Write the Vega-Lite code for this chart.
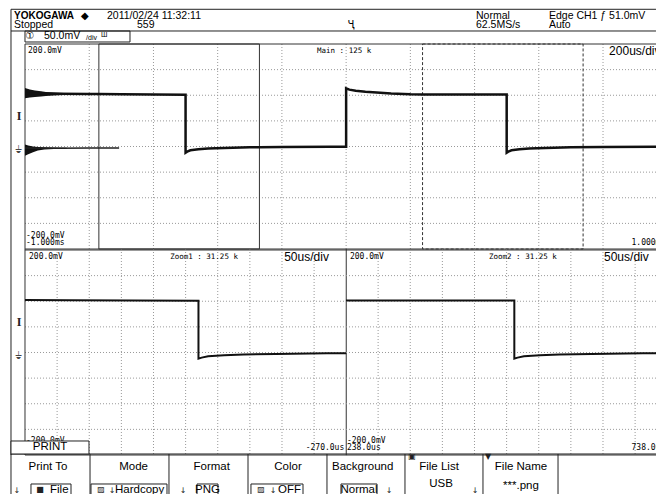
{
"$schema": "https://vega.github.io/schema/vega-lite/v6.json",
"padding": 0,
"spacing": 0,
"bounds": "flush",
"background": "white",
"config": {"view": {"stroke": null}, "axis": {"disable": true}, "concat": {"spacing": 0}},
"datasets": {
"ch1": [
{"t": -1000, "v": 104}, {"t": -900, "v": 103}, {"t": -800, "v": 102.5}, {"t": -770, "v": 102.35}, {"t": -700, "v": 102}, {"t": -600, "v": 101.5}, {"t": -500, "v": 101},
{"t": -500, "v": -12}, {"t": -495, "v": -10}, {"t": -485, "v": -7.5}, {"t": -460, "v": -5.5}, {"t": -430, "v": -4}, {"t": -380, "v": -2.8}, {"t": -300, "v": -1.6}, {"t": -270, "v": -1.36}, {"t": -200, "v": -0.8}, {"t": -50, "v": -0.4}, {"t": 0, "v": -0.4},
{"t": 0, "v": 113.5}, {"t": 10, "v": 111}, {"t": 30, "v": 109}, {"t": 60, "v": 107}, {"t": 95, "v": 105.5}, {"t": 140, "v": 103.5}, {"t": 200, "v": 102}, {"t": 238, "v": 101.6}, {"t": 250, "v": 101.5}, {"t": 350, "v": 101.5}, {"t": 500, "v": 101.5},
{"t": 500, "v": -12}, {"t": 505, "v": -10}, {"t": 515, "v": -7.5}, {"t": 540, "v": -5.5}, {"t": 570, "v": -4}, {"t": 620, "v": -2.8}, {"t": 700, "v": -1.6}, {"t": 800, "v": -0.8}, {"t": 1000, "v": -0.4}
],
"ring": [
{"trace": "high", "t": -1000, "lo": 94, "hi": 114}, {"trace": "high", "t": -985, "lo": 95.5, "hi": 111}, {"trace": "high", "t": -969, "lo": 96.5, "hi": 109.5}, {"trace": "high", "t": -950, "lo": 97.5, "hi": 108}, {"trace": "high", "t": -935, "lo": 98.5, "hi": 106.5}, {"trace": "high", "t": -910, "lo": 99.5, "hi": 105.5}, {"trace": "high", "t": -880, "lo": 100.5, "hi": 104.5}, {"trace": "high", "t": -840, "lo": 101, "hi": 103.8}, {"trace": "high", "t": -800, "lo": 101.4, "hi": 103.2},
{"trace": "low", "t": -1000, "lo": -18, "hi": 4}, {"trace": "low", "t": -990, "lo": -15, "hi": 2}, {"trace": "low", "t": -975, "lo": -11, "hi": 0}, {"trace": "low", "t": -960, "lo": -8, "hi": -1}, {"trace": "low", "t": -940, "lo": -6, "hi": -1.5}, {"trace": "low", "t": -910, "lo": -5, "hi": -2}, {"trace": "low", "t": -870, "lo": -4.5, "hi": -2.5}
],
"ghost": [{"t": -1000, "v": -3}, {"t": -900, "v": -3.2}, {"t": -800, "v": -3}, {"t": -707, "v": -3}]
},
"vconcat": [
{
"width": 656, "height": 44,
"layer": [
{"data": {"values": [{"d": -0.2179, "d2": 9.821, "r": 0.845}, {"d": -0.2179, "d2": 9.821, "r": 2.818}]},
 "mark": {"type": "rule", "color": "#222", "strokeWidth": 1},
 "encoding": {"x": {"field": "d", "type": "quantitative", "scale": {"domain": [-0.3891, 9.821], "nice": false}}, "x2": {"field": "d2"}, "y": {"field": "r", "type": "quantitative", "scale": {"domain": [0, 4], "reverse": true, "nice": false}}}},
{"data": {"values": [{"d": -0.2179, "r": 0.845, "r2": 4}]},
 "mark": {"type": "rule", "color": "#222", "strokeWidth": 1},
 "encoding": {"x": {"field": "d", "type": "quantitative", "scale": {"domain": [-0.3891, 9.821], "nice": false}}, "y": {"field": "r", "type": "quantitative", "scale": {"domain": [0, 4], "reverse": true, "nice": false}}, "y2": {"field": "r2"}}},
{"data": {"values": [{"d": 0, "d2": 1.634, "r": 2.818, "r2": 3.818}]},
 "mark": {"type": "rect", "fillOpacity": 0, "stroke": "#222", "strokeWidth": 1},
 "encoding": {"x": {"field": "d", "type": "quantitative", "scale": {"domain": [-0.3891, 9.821], "nice": false}}, "x2": {"field": "d2"}, "y": {"field": "r", "type": "quantitative", "scale": {"domain": [0, 4], "reverse": true, "nice": false}}, "y2": {"field": "r2"}}},
{"data": {"values": [{"d": -0.171, "r": 1.455, "txt": "YOKOGAWA"}]},
 "mark": {"type": "text", "align": "left", "baseline": "middle", "font": "Liberation Sans", "fontSize": 10, "fontWeight": "bold", "color": "#000"},
 "encoding": {"x": {"field": "d", "type": "quantitative", "scale": {"domain": [-0.3891, 9.821], "nice": false}}, "y": {"field": "r", "type": "quantitative", "scale": {"domain": [0, 4], "reverse": true, "nice": false}}, "text": {"field": "txt"}}},
{"data": {"values": [{"d": 0.93, "r": 1.455, "txt": "◆"}, {"d": 5.074, "r": 2.318, "txt": "Ҷ"}, {"d": 0.078, "r": 3.318, "txt": "①"}]},
 "mark": {"type": "text", "align": "center", "baseline": "middle", "font": "DejaVu Sans", "fontSize": 10, "color": "#000"},
 "encoding": {"x": {"field": "d", "type": "quantitative", "scale": {"domain": [-0.3891, 9.821], "nice": false}}, "y": {"field": "r", "type": "quantitative", "scale": {"domain": [0, 4], "reverse": true, "nice": false}}, "text": {"field": "txt"}}},
{"data": {"values": [
 {"d": 1.276, "r": 1.455, "txt": "2011/02/24 11:32:11"},
 {"d": -0.171, "r": 2.318, "txt": "Stopped"},
 {"d": 1.743, "r": 2.318, "txt": "559"},
 {"d": 7.019, "r": 1.455, "txt": "Normal"},
 {"d": 7.019, "r": 2.318, "txt": "62.5MS/s"},
 {"d": 8.155, "r": 1.455, "txt": "Edge CH1 ƒ 51.0mV"},
 {"d": 8.155, "r": 2.318, "txt": "Auto"},
 {"d": 0.296, "r": 3.318, "txt": "50.0mV"}]},
 "mark": {"type": "text", "align": "left", "baseline": "middle", "font": "Liberation Sans", "fontSize": 10.5, "color": "#000"},
 "encoding": {"x": {"field": "d", "type": "quantitative", "scale": {"domain": [-0.3891, 9.821], "nice": false}}, "y": {"field": "r", "type": "quantitative", "scale": {"domain": [0, 4], "reverse": true, "nice": false}}, "text": {"field": "txt"}}},
{"data": {"values": [{"d": 0.95, "r": 3.45, "txt": "/div"}, {"d": 1.183, "r": 3.2, "txt": "Ш"}]},
 "mark": {"type": "text", "align": "left", "baseline": "middle", "font": "Liberation Sans", "fontSize": 7, "color": "#000"},
 "encoding": {"x": {"field": "d", "type": "quantitative", "scale": {"domain": [-0.3891, 9.821], "nice": false}}, "y": {"field": "r", "type": "quantitative", "scale": {"domain": [0, 4], "reverse": true, "nice": false}}, "text": {"field": "txt"}}}
]
},
{
"width": 656, "height": 205,
"resolve": {"scale": {"x": "independent"}},
"layer": [
{"data": {"values": [{"d": -0.2179}]}, "mark": {"type": "rule", "color": "#222"},
 "encoding": {"x": {"field": "d", "type": "quantitative", "scale": {"domain": [-0.3891, 9.821], "nice": false}}}},
{"data": {"values": [{"d": -0.0934, "v": 59, "txt": "I"}]},
 "mark": {"type": "text", "align": "center", "baseline": "middle", "font": "Liberation Serif", "fontSize": 12, "fontWeight": "bold", "color": "#222"},
 "encoding": {"x": {"field": "d", "type": "quantitative", "scale": {"domain": [-0.3891, 9.821], "nice": false}}, "y": {"field": "v", "type": "quantitative", "scale": {"domain": [-200, 200], "nice": false}}, "text": {"field": "txt"}}},
{"data": {"values": [{"d": -0.0934, "v": -6, "txt": "⏚"}]},
 "mark": {"type": "text", "align": "center", "baseline": "middle", "font": "DejaVu Sans", "fontSize": 10, "color": "#444"},
 "encoding": {"x": {"field": "d", "type": "quantitative", "scale": {"domain": [-0.3891, 9.821], "nice": false}}, "y": {"field": "v", "type": "quantitative", "scale": {"domain": [-200, 200], "nice": false}}, "text": {"field": "txt"}}},
{"data": {"values": [{"t": -800}, {"t": -600}, {"t": -400}, {"t": -200}, {"t": 0}, {"t": 200}, {"t": 400}, {"t": 600}, {"t": 800}]},
 "mark": {"type": "rule", "color": "#999", "strokeDash": [1, 2]},
 "encoding": {"x": {"field": "t", "type": "quantitative", "scale": {"domain": [-1077.9, 965], "nice": false}}}},
{"data": {"values": [{"v": -150, "t": -1000, "t2": 965}, {"v": -100, "t": -1000, "t2": 965}, {"v": -50, "t": -1000, "t2": 965}, {"v": 0, "t": -1000, "t2": 965}, {"v": 50, "t": -1000, "t2": 965}, {"v": 100, "t": -1000, "t2": 965}, {"v": 150, "t": -1000, "t2": 965}]},
 "mark": {"type": "rule", "color": "#999", "strokeDash": [1, 2]},
 "encoding": {"x": {"field": "t", "type": "quantitative", "scale": {"domain": [-1077.9, 965], "nice": false}}, "x2": {"field": "t2"}, "y": {"field": "v", "type": "quantitative", "scale": {"domain": [-200, 200], "nice": false}}}},
{"data": {"values": [{"t": -1000}]},
 "mark": {"type": "rule", "color": "#333"},
 "encoding": {"x": {"field": "t", "type": "quantitative", "scale": {"domain": [-1077.9, 965], "nice": false}}}},
{"data": {"values": [{"v": 200, "t": -1000, "t2": 965}, {"v": -200, "t": -1000, "t2": 965}]},
 "mark": {"type": "rule", "color": "#333"},
 "encoding": {"x": {"field": "t", "type": "quantitative", "scale": {"domain": [-1077.9, 965], "nice": false}}, "x2": {"field": "t2"}, "y": {"field": "v", "type": "quantitative", "scale": {"domain": [-200, 200], "nice": false}}}},
{"data": {"values": [{"t": -770, "t2": -270, "v": -200, "v2": 200}]},
 "mark": {"type": "rect", "fillOpacity": 0, "stroke": "#333", "strokeWidth": 1},
 "encoding": {"x": {"field": "t", "type": "quantitative", "scale": {"domain": [-1077.9, 965], "nice": false}}, "x2": {"field": "t2"}, "y": {"field": "v", "type": "quantitative", "scale": {"domain": [-200, 200], "nice": false}}, "y2": {"field": "v2"}}},
{"data": {"values": [{"t": 238, "t2": 738, "v": -200, "v2": 200}]},
 "mark": {"type": "rect", "fillOpacity": 0, "stroke": "#333", "strokeWidth": 1, "strokeDash": [3, 2]},
 "encoding": {"x": {"field": "t", "type": "quantitative", "scale": {"domain": [-1077.9, 965], "nice": false}}, "x2": {"field": "t2"}, "y": {"field": "v", "type": "quantitative", "scale": {"domain": [-200, 200], "nice": false}}, "y2": {"field": "v2"}}},
{"data": {"name": "ring"},
 "mark": {"type": "area", "color": "#111"},
 "encoding": {"x": {"field": "t", "type": "quantitative", "scale": {"domain": [-1077.9, 965], "nice": false}}, "y": {"field": "hi", "type": "quantitative", "scale": {"domain": [-200, 200], "nice": false}}, "y2": {"field": "lo"}, "detail": {"field": "trace"}}},
{"data": {"name": "ghost"},
 "mark": {"type": "line", "color": "#222", "strokeWidth": 1.5},
 "encoding": {"x": {"field": "t", "type": "quantitative", "scale": {"domain": [-1077.9, 965], "nice": false}}, "y": {"field": "v", "type": "quantitative", "scale": {"domain": [-200, 200], "nice": false}}}},
{"data": {"name": "ch1"},
 "mark": {"type": "line", "color": "#111", "strokeWidth": 2.5, "clip": true},
 "encoding": {"x": {"field": "t", "type": "quantitative", "scale": {"domain": [-1077.9, 965], "nice": false}}, "y": {"field": "v", "type": "quantitative", "scale": {"domain": [-200, 200], "nice": false}}, "order": {"value": null}}},
{"data": {"values": [{"t": -1000, "v": 200, "txt": "200.0mV"}]},
 "mark": {"type": "text", "align": "left", "baseline": "top", "dx": 3, "dy": 3, "font": "DejaVu Sans Mono", "fontSize": 8, "color": "#000"},
 "encoding": {"x": {"field": "t", "type": "quantitative", "scale": {"domain": [-1077.9, 965], "nice": false}}, "y": {"field": "v", "type": "quantitative", "scale": {"domain": [-200, 200], "nice": false}}, "text": {"field": "txt"}}},
{"data": {"values": [{"t": -1000, "v": -200, "txt": "-200.0mV\n-1.000ms"}]},
 "mark": {"type": "text", "align": "left", "baseline": "bottom", "dx": 1, "dy": -9.5, "lineBreak": "\n", "lineHeight": 7.5, "font": "DejaVu Sans Mono", "fontSize": 8, "color": "#000"},
 "encoding": {"x": {"field": "t", "type": "quantitative", "scale": {"domain": [-1077.9, 965], "nice": false}}, "y": {"field": "v", "type": "quantitative", "scale": {"domain": [-200, 200], "nice": false}}, "text": {"field": "txt"}}},
{"data": {"values": [{"t": 1000, "v": -200, "txt": "1.000ms"}]},
 "mark": {"type": "text", "align": "right", "baseline": "bottom", "dx": -2, "dy": -2, "font": "DejaVu Sans Mono", "fontSize": 8, "color": "#000"},
 "encoding": {"x": {"field": "t", "type": "quantitative", "scale": {"domain": [-1077.9, 965], "nice": false}}, "y": {"field": "v", "type": "quantitative", "scale": {"domain": [-200, 200], "nice": false}}, "text": {"field": "txt"}}},
{"data": {"values": [{"t": 0, "v": 200, "txt": "Main : 125 k"}]},
 "mark": {"type": "text", "align": "center", "baseline": "top", "dx": -2, "dy": 3, "font": "DejaVu Sans Mono", "fontSize": 7.5, "color": "#000"},
 "encoding": {"x": {"field": "t", "type": "quantitative", "scale": {"domain": [-1077.9, 965], "nice": false}}, "y": {"field": "v", "type": "quantitative", "scale": {"domain": [-200, 200], "nice": false}}, "text": {"field": "txt"}}},
{"data": {"values": [{"t": 819, "v": 200, "txt": "200us/div"}]},
 "mark": {"type": "text", "align": "left", "baseline": "top", "dy": 2, "font": "Liberation Sans", "fontSize": 12, "color": "#000"},
 "encoding": {"x": {"field": "t", "type": "quantitative", "scale": {"domain": [-1077.9, 965], "nice": false}}, "y": {"field": "v", "type": "quantitative", "scale": {"domain": [-200, 200], "nice": false}}, "text": {"field": "txt"}}}
]
},
{
"width": 656, "height": 206,
"resolve": {"scale": {"x": "independent"}},
"layer": [
{"data": {"values": [{"d": -0.2179}]}, "mark": {"type": "rule", "color": "#222"},
 "encoding": {"x": {"field": "d", "type": "quantitative", "scale": {"domain": [-0.3891, 9.821], "nice": false}}}},
{"data": {"values": [{"d": -0.0934, "v": 59, "txt": "I"}]},
 "mark": {"type": "text", "align": "center", "baseline": "middle", "font": "Liberation Serif", "fontSize": 12, "fontWeight": "bold", "color": "#222"},
 "encoding": {"x": {"field": "d", "type": "quantitative", "scale": {"domain": [-0.3891, 9.821], "nice": false}}, "y": {"field": "v", "type": "quantitative", "scale": {"domain": [-200, 201.95], "nice": false}}, "text": {"field": "txt"}}},
{"data": {"values": [{"d": -0.0934, "v": -6, "txt": "⏚"}]},
 "mark": {"type": "text", "align": "center", "baseline": "middle", "font": "DejaVu Sans", "fontSize": 10, "color": "#444"},
 "encoding": {"x": {"field": "d", "type": "quantitative", "scale": {"domain": [-0.3891, 9.821], "nice": false}}, "y": {"field": "v", "type": "quantitative", "scale": {"domain": [-200, 201.95], "nice": false}}, "text": {"field": "txt"}}},
{"data": {"values": [{"t": -720}, {"t": -670}, {"t": -620}, {"t": -570}, {"t": -520}, {"t": -470}, {"t": -420}, {"t": -370}, {"t": -320}]},
 "mark": {"type": "rule", "color": "#999", "strokeDash": [1, 2]},
 "encoding": {"x": {"field": "t", "type": "quantitative", "scale": {"domain": [-808.9, 212.1], "nice": false}}}},
{"data": {"values": [{"v": -150, "t": -770, "t2": -270}, {"v": -100, "t": -770, "t2": -270}, {"v": -50, "t": -770, "t2": -270}, {"v": 0, "t": -770, "t2": -270}, {"v": 50, "t": -770, "t2": -270}, {"v": 100, "t": -770, "t2": -270}, {"v": 150, "t": -770, "t2": -270}]},
 "mark": {"type": "rule", "color": "#999", "strokeDash": [1, 2]},
 "encoding": {"x": {"field": "t", "type": "quantitative", "scale": {"domain": [-808.9, 212.1], "nice": false}}, "x2": {"field": "t2"}, "y": {"field": "v", "type": "quantitative", "scale": {"domain": [-200, 201.95], "nice": false}}}},
{"data": {"values": [{"t": -770}, {"t": -270}]},
 "mark": {"type": "rule", "color": "#333"},
 "encoding": {"x": {"field": "t", "type": "quantitative", "scale": {"domain": [-808.9, 212.1], "nice": false}}}},
{"data": {"values": [{"v": 200, "t": -770, "t2": -270}, {"v": -200, "t": -770, "t2": -270}]},
 "mark": {"type": "rule", "color": "#333"},
 "encoding": {"x": {"field": "t", "type": "quantitative", "scale": {"domain": [-808.9, 212.1], "nice": false}}, "x2": {"field": "t2"}, "y": {"field": "v", "type": "quantitative", "scale": {"domain": [-200, 201.95], "nice": false}}}},
{"data": {"name": "ch1"},
 "transform": [{"filter": "datum.t >= -770 && datum.t <= -270"}],
 "mark": {"type": "line", "color": "#111", "strokeWidth": 2},
 "encoding": {"x": {"field": "t", "type": "quantitative", "scale": {"domain": [-808.9, 212.1], "nice": false}}, "y": {"field": "v", "type": "quantitative", "scale": {"domain": [-200, 201.95], "nice": false}}, "order": {"value": null}}},
{"data": {"values": [{"t": -770, "v": 200, "txt": "200.0mV"}]},
 "mark": {"type": "text", "align": "left", "baseline": "top", "dx": 4, "dy": 3, "font": "DejaVu Sans Mono", "fontSize": 8, "color": "#000"},
 "encoding": {"x": {"field": "t", "type": "quantitative", "scale": {"domain": [-808.9, 212.1], "nice": false}}, "y": {"field": "v", "type": "quantitative", "scale": {"domain": [-200, 201.95], "nice": false}}, "text": {"field": "txt"}}},
{"data": {"values": [{"t": -544, "v": 200, "txt": "Zoom1 : 31.25 k"}]},
 "mark": {"type": "text", "align": "left", "baseline": "top", "dy": 3, "font": "DejaVu Sans Mono", "fontSize": 7.5, "color": "#000"},
 "encoding": {"x": {"field": "t", "type": "quantitative", "scale": {"domain": [-808.9, 212.1], "nice": false}}, "y": {"field": "v", "type": "quantitative", "scale": {"domain": [-200, 201.95], "nice": false}}, "text": {"field": "txt"}}},
{"data": {"values": [{"t": -366.6, "v": 200, "txt": "50us/div"}]},
 "mark": {"type": "text", "align": "left", "baseline": "top", "dy": 2, "font": "Liberation Sans", "fontSize": 12, "color": "#000"},
 "encoding": {"x": {"field": "t", "type": "quantitative", "scale": {"domain": [-808.9, 212.1], "nice": false}}, "y": {"field": "v", "type": "quantitative", "scale": {"domain": [-200, 201.95], "nice": false}}, "text": {"field": "txt"}}},
{"data": {"values": [{"t": -770, "v": -200, "txt": "-200.0mV\n-770.0us"}]},
 "mark": {"type": "text", "align": "left", "baseline": "bottom", "dx": 1, "dy": -10.5, "lineBreak": "\n", "lineHeight": 7.5, "font": "DejaVu Sans Mono", "fontSize": 8, "color": "#000"},
 "encoding": {"x": {"field": "t", "type": "quantitative", "scale": {"domain": [-808.9, 212.1], "nice": false}}, "y": {"field": "v", "type": "quantitative", "scale": {"domain": [-200, 201.95], "nice": false}}, "text": {"field": "txt"}}},
{"data": {"values": [{"t": -270, "v": -200, "txt": "-270.0us"}]},
 "mark": {"type": "text", "align": "right", "baseline": "bottom", "dx": -2, "dy": -3, "font": "DejaVu Sans Mono", "fontSize": 8, "color": "#000"},
 "encoding": {"x": {"field": "t", "type": "quantitative", "scale": {"domain": [-808.9, 212.1], "nice": false}}, "y": {"field": "v", "type": "quantitative", "scale": {"domain": [-200, 201.95], "nice": false}}, "text": {"field": "txt"}}},
{"data": {"values": [{"t": 288}, {"t": 338}, {"t": 388}, {"t": 438}, {"t": 488}, {"t": 538}, {"t": 588}, {"t": 638}, {"t": 688}]},
 "mark": {"type": "rule", "color": "#999", "strokeDash": [1, 2]},
 "encoding": {"x": {"field": "t", "type": "quantitative", "scale": {"domain": [-300.5, 720.5], "nice": false}}}},
{"data": {"values": [{"v": -150, "t": 238, "t2": 720.5}, {"v": -100, "t": 238, "t2": 720.5}, {"v": -50, "t": 238, "t2": 720.5}, {"v": 0, "t": 238, "t2": 720.5}, {"v": 50, "t": 238, "t2": 720.5}, {"v": 100, "t": 238, "t2": 720.5}, {"v": 150, "t": 238, "t2": 720.5}]},
 "mark": {"type": "rule", "color": "#999", "strokeDash": [1, 2]},
 "encoding": {"x": {"field": "t", "type": "quantitative", "scale": {"domain": [-300.5, 720.5], "nice": false}}, "x2": {"field": "t2"}, "y": {"field": "v", "type": "quantitative", "scale": {"domain": [-200, 201.95], "nice": false}}}},
{"data": {"values": [{"v": 200, "t": 238, "t2": 720.5}, {"v": -200, "t": 238, "t2": 720.5}]},
 "mark": {"type": "rule", "color": "#333"},
 "encoding": {"x": {"field": "t", "type": "quantitative", "scale": {"domain": [-300.5, 720.5], "nice": false}}, "x2": {"field": "t2"}, "y": {"field": "v", "type": "quantitative", "scale": {"domain": [-200, 201.95], "nice": false}}}},
{"data": {"name": "ch1"},
 "transform": [{"filter": "datum.t >= 238"}],
 "mark": {"type": "line", "color": "#111", "strokeWidth": 2, "clip": true},
 "encoding": {"x": {"field": "t", "type": "quantitative", "scale": {"domain": [-300.5, 720.5], "nice": false}}, "y": {"field": "v", "type": "quantitative", "scale": {"domain": [-200, 201.95], "nice": false}}, "order": {"value": null}}},
{"data": {"values": [{"t": 238, "v": 200, "txt": "200.0mV"}]},
 "mark": {"type": "text", "align": "left", "baseline": "top", "dx": 4, "dy": 3, "font": "DejaVu Sans Mono", "fontSize": 8, "color": "#000"},
 "encoding": {"x": {"field": "t", "type": "quantitative", "scale": {"domain": [-300.5, 720.5], "nice": false}}, "y": {"field": "v", "type": "quantitative", "scale": {"domain": [-200, 201.95], "nice": false}}, "text": {"field": "txt"}}},
{"data": {"values": [{"t": 460.6, "v": 200, "txt": "Zoom2 : 31.25 k"}]},
 "mark": {"type": "text", "align": "left", "baseline": "top", "dy": 3, "font": "DejaVu Sans Mono", "fontSize": 7.5, "color": "#000"},
 "encoding": {"x": {"field": "t", "type": "quantitative", "scale": {"domain": [-300.5, 720.5], "nice": false}}, "y": {"field": "v", "type": "quantitative", "scale": {"domain": [-200, 201.95], "nice": false}}, "text": {"field": "txt"}}},
{"data": {"values": [{"t": 639.6, "v": 200, "txt": "50us/div"}]},
 "mark": {"type": "text", "align": "left", "baseline": "top", "dy": 2, "font": "Liberation Sans", "fontSize": 12, "color": "#000"},
 "encoding": {"x": {"field": "t", "type": "quantitative", "scale": {"domain": [-300.5, 720.5], "nice": false}}, "y": {"field": "v", "type": "quantitative", "scale": {"domain": [-200, 201.95], "nice": false}}, "text": {"field": "txt"}}},
{"data": {"values": [{"t": 238, "v": -200, "txt": "-200.0mV\n238.0us"}]},
 "mark": {"type": "text", "align": "left", "baseline": "bottom", "dx": 1, "dy": -10.5, "lineBreak": "\n", "lineHeight": 7.5, "font": "DejaVu Sans Mono", "fontSize": 8, "color": "#000"},
 "encoding": {"x": {"field": "t", "type": "quantitative", "scale": {"domain": [-300.5, 720.5], "nice": false}}, "y": {"field": "v", "type": "quantitative", "scale": {"domain": [-200, 201.95], "nice": false}}, "text": {"field": "txt"}}},
{"data": {"values": [{"t": 738, "v": -200, "txt": "738.0us"}]},
 "mark": {"type": "text", "align": "right", "baseline": "bottom", "dx": -2, "dy": -3, "font": "DejaVu Sans Mono", "fontSize": 8, "color": "#000"},
 "encoding": {"x": {"field": "t", "type": "quantitative", "scale": {"domain": [-300.5, 720.5], "nice": false}}, "y": {"field": "v", "type": "quantitative", "scale": {"domain": [-200, 201.95], "nice": false}}, "text": {"field": "txt"}}}
]
},
{
"width": 656, "height": 39,
"layer": [
{"data": {"values": [{"d": -0.2179, "d2": 9.821, "r": -0.077}]},
 "mark": {"type": "rule", "color": "#222"},
 "encoding": {"x": {"field": "d", "type": "quantitative", "scale": {"domain": [-0.3891, 9.821], "nice": false}}, "x2": {"field": "d2"}, "y": {"field": "r", "type": "quantitative", "scale": {"domain": [0, 3], "reverse": true, "nice": false}}}},
{"data": {"values": [{"d": -0.2179, "r": -0.077, "r2": 3}, {"d": 1.012, "r": -0.077, "r2": 3}, {"d": 2.241, "r": -0.077, "r2": 3}, {"d": 3.471, "r": -0.077, "r2": 3}, {"d": 4.7, "r": -0.077, "r2": 3}, {"d": 5.914, "r": -0.077, "r2": 3}, {"d": 7.128, "r": -0.077, "r2": 3}, {"d": 8.296, "r": -0.077, "r2": 3}]},
 "mark": {"type": "rule", "color": "#222"},
 "encoding": {"x": {"field": "d", "type": "quantitative", "scale": {"domain": [-0.3891, 9.821], "nice": false}}, "y": {"field": "r", "type": "quantitative", "scale": {"domain": [0, 3], "reverse": true, "nice": false}}, "y2": {"field": "r2"}}},
{"data": {"values": [{"d": -0.2179, "d2": 0.996, "r": -1.077, "r2": -0.077}]},
 "mark": {"type": "rect", "fill": "white", "stroke": "#222", "strokeWidth": 1},
 "encoding": {"x": {"field": "d", "type": "quantitative", "scale": {"domain": [-0.3891, 9.821], "nice": false}}, "x2": {"field": "d2"}, "y": {"field": "r", "type": "quantitative", "scale": {"domain": [0, 3], "reverse": true, "nice": false}}, "y2": {"field": "r2"}}},
{"data": {"values": [{"d": 0.093, "d2": 0.716, "r": 2.23, "r2": 3.4}, {"d": 1.027, "d2": 2.21, "r": 2.23, "r2": 3.4}, {"d": 2.677, "d2": 3.004, "r": 2.23, "r2": 3.4}, {"d": 3.517, "d2": 4.327, "r": 2.23, "r2": 3.4}, {"d": 4.918, "d2": 5.479, "r": 2.23, "r2": 3.4}]},
 "mark": {"type": "rect", "fillOpacity": 0, "stroke": "#222", "strokeWidth": 1},
 "encoding": {"x": {"field": "d", "type": "quantitative", "scale": {"domain": [-0.3891, 9.821], "nice": false}}, "x2": {"field": "d2"}, "y": {"field": "r", "type": "quantitative", "scale": {"domain": [0, 3], "reverse": true, "nice": false}}, "y2": {"field": "r2"}}},
{"data": {"values": [
 {"d": 0.389, "r": -0.577, "txt": "PRINT"},
 {"d": 0.358, "r": 0.923, "txt": "Print To"},
 {"d": 1.69, "r": 0.923, "txt": "Mode"},
 {"d": 2.906, "r": 0.923, "txt": "Format"},
 {"d": 4.093, "r": 0.923, "txt": "Color"},
 {"d": 5.256, "r": 0.923, "txt": "Background"},
 {"d": 6.444, "r": 0.923, "txt": "File List"},
 {"d": 7.72, "r": 0.923, "txt": "File Name"},
 {"d": 2.84, "r": 2.69, "txt": "PNG"},
 {"d": 5.198, "r": 2.69, "txt": "Normal"},
 {"d": 6.475, "r": 2.23, "txt": "USB"},
 {"d": 7.72, "r": 2.385, "txt": "***.png"}]},
 "mark": {"type": "text", "align": "center", "baseline": "middle", "font": "Liberation Sans", "fontSize": 11.5, "color": "#000"},
 "encoding": {"x": {"field": "d", "type": "quantitative", "scale": {"domain": [-0.3891, 9.821], "nice": false}}, "y": {"field": "r", "type": "quantitative", "scale": {"domain": [0, 3], "reverse": true, "nice": false}}, "text": {"field": "txt"}}},
{"data": {"values": [
 {"d": 0.389, "r": 2.69, "txt": "File"},
 {"d": 1.401, "r": 2.69, "txt": "Hardcopy"},
 {"d": 3.938, "r": 2.69, "txt": "OFF"}]},
 "mark": {"type": "text", "align": "left", "baseline": "middle", "font": "Liberation Sans", "fontSize": 11.5, "color": "#000"},
 "encoding": {"x": {"field": "d", "type": "quantitative", "scale": {"domain": [-0.3891, 9.821], "nice": false}}, "y": {"field": "r", "type": "quantitative", "scale": {"domain": [0, 3], "reverse": true, "nice": false}}, "text": {"field": "txt"}}},
{"data": {"values": [
 {"d": 0.233, "r": 2.69, "txt": "■"},
 {"d": 1.183, "r": 2.69, "txt": "▨"},
 {"d": 3.673, "r": 2.69, "txt": "▨"},
 {"d": 6.023, "r": 0.15, "txt": "▣"},
 {"d": 7.206, "r": 0.12, "txt": "▼"},
 {"d": -0.125, "r": 2.75, "txt": "↓"},
 {"d": 1.354, "r": 2.75, "txt": "↓"},
 {"d": 2.459, "r": 2.75, "txt": "↓"},
 {"d": 3.86, "r": 2.75, "txt": "↓"},
 {"d": 5.665, "r": 2.75, "txt": "↓"},
 {"d": 7.004, "r": 2.75, "txt": "↓"}]},
 "mark": {"type": "text", "align": "center", "baseline": "middle", "font": "DejaVu Sans", "fontSize": 8, "color": "#222"},
 "encoding": {"x": {"field": "d", "type": "quantitative", "scale": {"domain": [-0.3891, 9.821], "nice": false}}, "y": {"field": "r", "type": "quantitative", "scale": {"domain": [0, 3], "reverse": true, "nice": false}}, "text": {"field": "txt"}}}
]
}
]
}
